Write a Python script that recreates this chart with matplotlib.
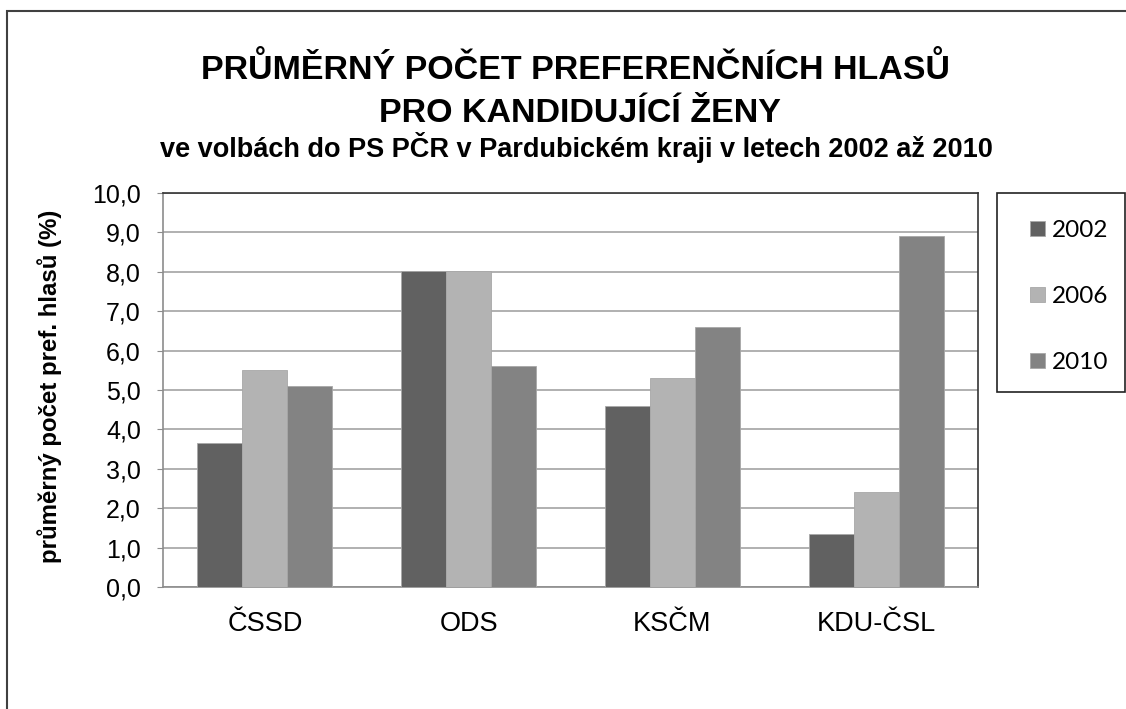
import numpy as np
import matplotlib.pyplot as plt
from matplotlib.patches import Rectangle

# Data
parties = ['ČSSD', 'ODS', 'KSČM', 'KDU-ČSL']
years = ['2002', '2006', '2010']
v2002 = [3.65, 8.03, 4.59, 1.34]
v2006 = [5.51, 8.03, 5.30, 2.42]
v2010 = [5.09, 5.61, 6.60, 8.91]
yticks = np.arange(0, 10.5, 1.0)
ytick_labels = ['%.1f' % v for v in yticks]
ytick_labels = [s.replace('.', ',') for s in ytick_labels]

colors = ['#616161', '#b3b3b3', '#838383']

W, H = 1126, 709
fig = plt.figure(figsize=(W / 100, H / 100), dpi=100)
plt.rcParams['font.family'] = ['Liberation Sans', 'DejaVu Sans']

ax = fig.add_axes([163 / W, 1 - 587 / H, (978 - 163) / W, (587 - 193) / H])

# Bars
x = np.arange(len(parties))
bw = 0.221
series = [v2002, v2006, v2010]
for i, (vals, c) in enumerate(zip(series, colors)):
    ax.bar(x + (i - 1) * bw, vals, width=bw, color=c,
           edgecolor='#a8a8a8', linewidth=0.6, label=years[i], zorder=3)

ax.set_xlim(-0.5, len(parties) - 0.5)
ax.set_ylim(0, 10)
ax.set_yticks(yticks)
ax.set_yticklabels(ytick_labels, fontsize=18)
ax.set_xticks(x)
ax.set_xticklabels(parties, fontsize=19.5)
ax.tick_params(axis='x', length=0, pad=17)
ax.tick_params(axis='y', length=4, color='#8c8c8c', pad=12)
ax.yaxis.grid(True, color='#a3a3a3', linewidth=1.2, zorder=0)
ax.set_axisbelow(True)

for side in ['top', 'right']:
    ax.spines[side].set_color('#333333')
    ax.spines[side].set_linewidth(1.2)
for side in ['left', 'bottom']:
    ax.spines[side].set_color('#8c8c8c')
    ax.spines[side].set_linewidth(1.2)

ax.set_ylabel('průměrný počet pref. hlasů (%)', fontsize=17.3,
              fontweight='bold')
ax.yaxis.set_label_coords(62 / W, 1 - 386 / H, transform=fig.transFigure)

# Titles
fig.text(0.511, 1 - 79 / H, 'PRŮMĚRNÝ POČET PREFERENČNÍCH HLASŮ',
         ha='center', va='baseline', fontsize=24.5, fontweight='bold')
fig.text(0.515, 1 - 122 / H, 'PRO KANDIDUJÍCÍ ŽENY',
         ha='center', va='baseline', fontsize=24.5, fontweight='bold')
fig.text(0.512, 1 - 157 / H,
         've volbách do PS PČR v Pardubickém kraji v letech 2002 až 2010',
         ha='center', va='baseline', fontsize=19.5, fontweight='bold')

# Legend box
fig.patches.append(Rectangle((997 / W, 1 - 392 / H), (1125 - 997) / W,
                             (392 - 193) / H, transform=fig.transFigure,
                             fill=False, edgecolor='#222222', linewidth=1.2))
handles, labels = ax.get_legend_handles_labels()
leg = fig.legend(handles, labels, loc='upper left',
                 bbox_to_anchor=(1018 / W, 1 - 208 / H),
                 frameon=False, prop={'family': 'Lato', 'size': 17.5},
                 handlelength=0.6, handleheight=0.6, handletextpad=0.3,
                 labelspacing=1.85, borderpad=0)

# Outer chart frame
fig.patches.append(Rectangle((7 / W, -0.1), 1.2, 1 - 11 / H + 0.1,
                             transform=fig.transFigure, fill=False,
                             edgecolor='#404040', linewidth=1.5))

fig.savefig('out.png', dpi=100)
